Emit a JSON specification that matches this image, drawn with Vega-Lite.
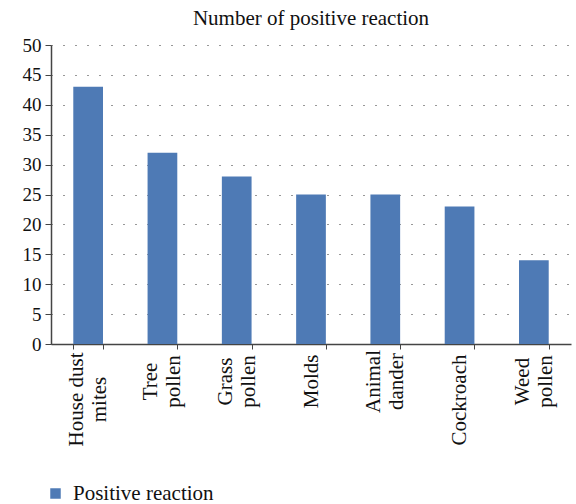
{
  "$schema": "https://vega.github.io/schema/vega-lite/v6.json",
  "autosize": "none",
  "width": 520,
  "height": 299,
  "padding": {"left": 51, "top": 45, "right": 5, "bottom": 160},
  "background": "white",
  "title": {"text": "Number of positive reaction", "font": "Liberation Serif", "fontSize": 21, "fontWeight": "normal", "color": "#111", "anchor": "middle", "offset": 7},
  "config": {
    "view": {"stroke": null},
    "font": "Liberation Serif",
    "axisX": {"orient": "bottom", "title": null, "labelAngle": -90, "labelAlign": "center", "labelBaseline": "middle", "labelFontSize": 21, "labelColor": "#111", "labelFont": "Liberation Serif", "tickBand": "extent", "tickSize": 5, "labelOverlap": false, "labelBound": false}
  },
  "data": {"values": [
    {"allergen": "House dust|mites", "value": 43, "series": "Positive reaction"},
    {"allergen": "Tree|pollen", "value": 32, "series": "Positive reaction"},
    {"allergen": "Grass|pollen", "value": 28, "series": "Positive reaction"},
    {"allergen": "Molds", "value": 25, "series": "Positive reaction"},
    {"allergen": "Animal|dander", "value": 25, "series": "Positive reaction"},
    {"allergen": "Cockroach", "value": 23, "series": "Positive reaction"},
    {"allergen": "Weed|pollen", "value": 14, "series": "Positive reaction"}
  ]},
  "resolve": {"axis": {"x": "independent"}},
  "layer": [
    {
      "mark": {"type": "bar"},
      "encoding": {
        "x": {"field": "allergen", "type": "nominal", "sort": null,
          "scale": {"paddingInner": 0.6, "paddingOuter": 0.3},
          "axis": {"orient": "bottom", "labelAlign": "right", "labelPadding": 5,
            "labelExpr": "indexof(datum.label, '|') < 0 ? datum.label : ''",
            "tickColor": "#444", "domainColor": "#444", "domainWidth": 1.5}},
        "y": {"field": "value", "type": "quantitative",
          "scale": {"domain": [0, 50]},
          "axis": {"title": null, "values": [0,5,10,15,20,25,30,35,40,45,50], "labelFontSize": 19, "labelColor": "#111", "labelFont": "Liberation Serif",
            "tickSize": 6, "tickColor": "#444", "domainColor": "#444", "domainWidth": 1.5, "labelPadding": 4,
            "grid": true, "gridColor": "#333", "gridDash": [1, 11], "gridWidth": 1.2}},
        "color": {"field": "series", "type": "nominal", "scale": {"range": ["#4E7AB5"]},
          "legend": {"title": null, "orient": "none", "legendX": -6, "legendY": 438, "symbolType": "square", "symbolSize": 110, "symbolStrokeWidth": 0,
            "labelFontSize": 21, "labelFont": "Liberation Serif", "labelColor": "#111", "labelOffset": 7}}
      }
    },
    {
      "mark": {"type": "bar", "opacity": 0},
      "encoding": {
        "x": {"field": "allergen", "type": "nominal", "sort": null,
          "axis": {"orient": "bottom", "domain": false, "tickOpacity": 0, "labelOffset": -11.5, "labelPadding": 50,
            "labelExpr": "datum.label == 'House dust|mites' ? 'House dust' : ''"}}
      }
    },
    {
      "mark": {"type": "bar", "opacity": 0},
      "encoding": {
        "x": {"field": "allergen", "type": "nominal", "sort": null,
          "axis": {"orient": "bottom", "domain": false, "tickOpacity": 0, "labelOffset": 11.5, "labelPadding": 50,
            "labelExpr": "datum.label == 'House dust|mites' ? 'mites' : ''"}}
      }
    },
    {
      "mark": {"type": "bar", "opacity": 0},
      "encoding": {
        "x": {"field": "allergen", "type": "nominal", "sort": null,
          "axis": {"orient": "bottom", "domain": false, "tickOpacity": 0, "labelOffset": -11.5, "labelPadding": 32,
            "labelExpr": "indexof(datum.label, '|') >= 0 && datum.label != 'House dust|mites' ? split(datum.label, '|')[0] : ''"}}
      }
    },
    {
      "mark": {"type": "bar", "opacity": 0},
      "encoding": {
        "x": {"field": "allergen", "type": "nominal", "sort": null,
          "axis": {"orient": "bottom", "domain": false, "tickOpacity": 0, "labelOffset": 11.5, "labelPadding": 32,
            "labelExpr": "indexof(datum.label, '|') >= 0 && datum.label != 'House dust|mites' ? split(datum.label, '|')[1] : ''"}}
      }
    }
  ]
}
